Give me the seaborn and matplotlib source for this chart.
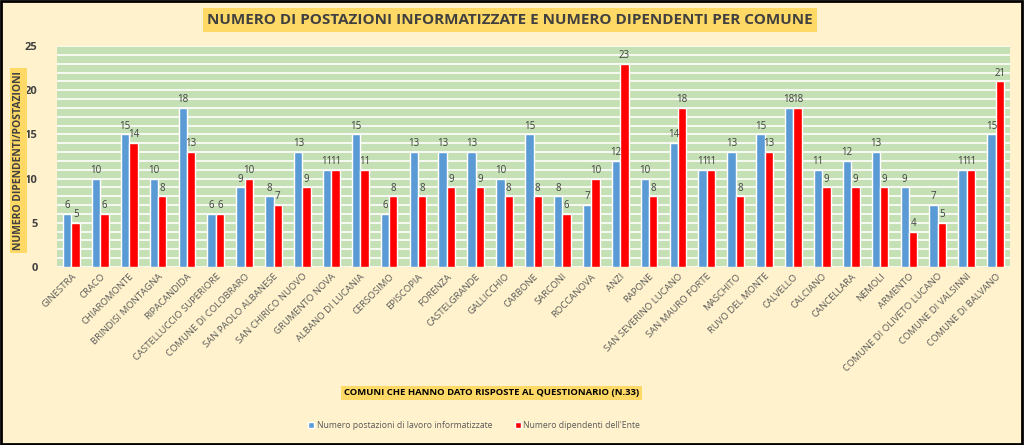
import numpy as np
import pandas as pd
import seaborn as sns
from matplotlib import pyplot as plt
from matplotlib.patches import Rectangle

# comuni and values
comuni = ["GINESTRA", "CRACO", "CHIAROMONTE", "BRINDISI MONTAGNA", "RIPACANDIDA",
          "CASTELLUCCIO SUPERIORE", "COMUNE DI COLOBRARO", "SAN PAOLO ALBANESE",
          "SAN CHIRICO NUOVO", "GRUMENTO NOVA", "ALBANO DI LUCANIA", "CERSOSIMO",
          "EPISCOPIA", "FORENZA", "CASTELGRANDE", "GALLICCHIO", "CARBONE", "SARCONI",
          "ROCCANOVA", "ANZI", "RAPONE", "SAN SEVERINO LUCANO", "SAN MAURO FORTE",
          "MASCHITO", "RUVO DEL MONTE", "CALVELLO", "CALCIANO", "CANCELLARA", "NEMOLI",
          "ARMENTO", "COMUNE DI OLIVETO LUCANO", "COMUNE DI VALSINNI", "COMUNE DI BALVANO"]
postazioni = [6, 10, 15, 10, 18, 6, 9, 8, 13, 11, 15, 6, 13, 13, 13, 10, 15, 8, 7, 12,
              10, 14, 11, 13, 15, 18, 11, 12, 13, 9, 7, 11, 15]
dipendenti = [5, 6, 14, 8, 13, 6, 10, 7, 9, 11, 11, 8, 8, 9, 9, 8, 8, 6, 10, 23,
              8, 18, 11, 8, 13, 18, 9, 9, 9, 4, 5, 11, 21]
series = ["Numero postazioni di lavoro informatizzate", "Numero dipendenti dell'Ente"]

df = pd.DataFrame({"comune": comuni, series[0]: postazioni, series[1]: dipendenti})
df = df.melt(id_vars="comune", var_name="serie", value_name="valore")

sns.set_style("white")
plt.rcParams['font.family'] = ['Open Sans', 'DejaVu Sans']

fig = plt.figure(figsize=(10.24, 4.45), dpi=100, facecolor="#fff2cc")
ax = fig.add_axes([57/1024, 1-267/445, 953/1024, 221/445])
ax.set_facecolor("#c5e0b4")

sns.barplot(data=df, x="comune", y="valore", hue="serie", order=comuni,
            palette=["#5b9bd5", "#ff0000"], width=0.58, gap=0, saturation=1,
            ax=ax, zorder=3)

# labels sopra le barre
for c in ax.containers:
    ax.bar_label(c, fontsize=7, color="#404040", padding=2)

ax.set_ylim(0, 25)
ax.set_yticks(range(0, 26, 5))
ax.set_yticks(range(0, 26), minor=True)
ax.grid(True, axis="y", which="both", color="white", linewidth=1.2, zorder=0)
ax.set_axisbelow(True)
ax.set_xlim(-0.5, len(comuni) - 0.5)
for s in ax.spines.values():
    s.set_visible(False)
ax.tick_params(axis="both", length=0)
ax.tick_params(axis="y", which="minor", length=0)
for t in ax.get_yticklabels():
    t.set_fontweight("bold")
    t.set_fontsize(8)
    t.set_color("#404040")
ax.set_xticks(range(len(comuni)))
ax.set_xticklabels(comuni, rotation=45, ha="right", rotation_mode="anchor",
                   fontsize=6.8, color="#595959")
ax.tick_params(axis="y", pad=14)
ax.set_xlabel("")
ax.set_ylabel("")

ax.legend_.remove()
handles, labels = ax.get_legend_handles_labels()
fig.legend(handles, labels, loc="center", bbox_to_anchor=(0.463, 0.044), ncol=2,
           frameon=False, fontsize=6.2, handlelength=0.7, handleheight=0.7,
           handletextpad=0.3, columnspacing=2.6, labelcolor="#595959")

box = dict(boxstyle="square,pad=0.3", facecolor="#ffd966", edgecolor="none")
fig.text(0.498, 0.955, "NUMERO DI POSTAZIONI INFORMATIZZATE E NUMERO DIPENDENTI PER COMUNE",
         ha="center", va="center", fontsize=11, fontweight="bold", color="#404040", bbox=box)
fig.text(0.018, 0.64, "NUMERO DIPENDENTI/POSTAZIONI", rotation=90, ha="center", va="center",
         fontsize=7.5, fontweight="bold", color="#404040", bbox=box)
fig.text(0.48, 0.117, "COMUNI CHE HANNO DATO RISPOSTE AL QUESTIONARIO (N.33)",
         ha="center", va="center", fontsize=6.8, fontweight="bold", color="black", bbox=box)

fig.add_artist(Rectangle((0.001, 0.002), 0.997, 0.995, transform=fig.transFigure,
                         fill=False, edgecolor="black", linewidth=2))

fig.savefig("out.png", dpi=100, facecolor=fig.get_facecolor())
